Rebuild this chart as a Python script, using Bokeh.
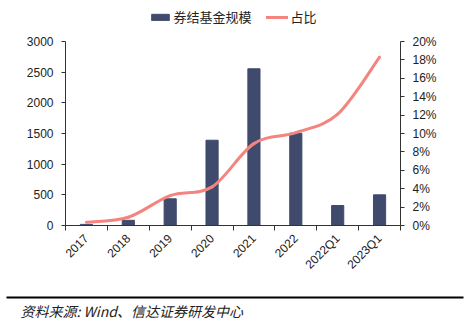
import math
from bokeh.plotting import figure
from bokeh.layouts import column
from bokeh.models import (Range1d, LinearAxis, FixedTicker, PrintfTickFormatter,
                          Legend, LegendItem, ColumnDataSource)
from bokeh.core.properties import value
from bokeh.embed import file_html
from bokeh.resources import INLINE

# ---- data ----
categories = ["2017", "2018", "2019", "2020", "2021", "2022", "2022Q1", "2023Q1"]
fund_scale = [18, 85, 435, 1390, 2555, 1505, 326, 500]          # 券结基金规模
share_pct = [0.35, 0.9, 3.25, 4.2, 8.9, 10.1, 12.1, 18.3]       # 占比 (%)
left_ticks = [0, 500, 1000, 1500, 2000, 2500, 3000]
right_ticks = [0, 2, 4, 6, 8, 10, 12, 14, 16, 18, 20]
legend_bar = "券结基金规模"
legend_line = "占比"
source_text = "资料来源: Wind、信达证券研发中心"

BAR_COLOR = "#3F4A6D"
LINE_COLOR = "#F4847F"
TXT = "#222222"
NUM_FONT = "Liberation Sans"
CJK_FONT = "Noto Sans CJK SC"

n = len(categories)
xc = [i + 0.5 for i in range(n)]

# frame spans y=7..225 px; the axes themselves span 184 px (0..max tick)
FRAME_H, AXIS_H = 218, 184
left_max, right_max = left_ticks[-1], right_ticks[-1]

p = figure(width=473, height=290, output_backend="svg", toolbar_location=None,
           x_range=Range1d(0, n), y_range=Range1d(0, left_max * FRAME_H / AXIS_H),
           min_border_left=65, min_border_right=73, min_border_top=7,
           min_border_bottom=65, outline_line_color=None, frame_align=False,
           background_fill_color="white", border_fill_color="white")
p.xgrid.visible = False
p.ygrid.visible = False
p.extra_y_ranges = {"pct": Range1d(0, right_max * FRAME_H / AXIS_H)}

bars = p.vbar(x=xc, top=fund_scale, width=0.29, color=BAR_COLOR)

# smooth (Catmull-Rom) curve through the share points
x0, y0, x1, y1, cx0, cy0, cx1, cy1 = [], [], [], [], [], [], [], []
for i in range(n - 1):
    pa = (xc[max(i - 1, 0)], share_pct[max(i - 1, 0)])
    pb = (xc[i], share_pct[i])
    pc = (xc[i + 1], share_pct[i + 1])
    pd = (xc[min(i + 2, n - 1)], share_pct[min(i + 2, n - 1)])
    x0.append(pb[0]); y0.append(pb[1]); x1.append(pc[0]); y1.append(pc[1])
    cx0.append(pb[0] + (pc[0] - pa[0]) / 6); cy0.append(pb[1] + (pc[1] - pa[1]) / 6)
    cx1.append(pc[0] - (pd[0] - pb[0]) / 6); cy1.append(pc[1] - (pd[1] - pb[1]) / 6)
src = ColumnDataSource(dict(x0=x0, y0=y0, x1=x1, y1=y1, cx0=cx0, cy0=cy0, cx1=cx1, cy1=cy1))
curve = p.bezier(x0="x0", y0="y0", x1="x1", y1="y1", cx0="cx0", cy0="cy0", cx1="cx1", cy1="cy1",
                 source=src, line_color=LINE_COLOR, line_width=3, line_cap="round",
                 y_range_name="pct")

def style_axis(ax):
    ax.axis_line_color = "#333333"
    ax.axis_line_width = 1
    ax.major_tick_line_color = "#333333"
    ax.major_tick_out = 4
    ax.major_tick_in = 0
    ax.minor_tick_line_color = None
    ax.major_label_text_font = NUM_FONT
    ax.major_label_text_font_size = "12px"
    ax.major_label_text_color = TXT

# left axis
ly = p.yaxis[0]
ly.ticker = FixedTicker(ticks=left_ticks)
ly.bounds = (0, left_max)
style_axis(ly)
ly.major_label_standoff = 8

# right axis
ry = LinearAxis(y_range_name="pct", ticker=FixedTicker(ticks=right_ticks),
                formatter=PrintfTickFormatter(format="%d%%"), bounds=(0, right_max))
style_axis(ry)
ry.major_label_standoff = 8
p.add_layout(ry, "right")

# bottom axis: labels at centres, ticks at boundaries
bx = p.xaxis[0]
bx.ticker = FixedTicker(ticks=xc, minor_ticks=list(range(n + 1)))
bx.major_label_overrides = {x: c for x, c in zip(xc, categories)}
style_axis(bx)
bx.major_tick_line_color = None
bx.minor_tick_line_color = "#333333"
bx.minor_tick_out = 5
bx.minor_tick_in = 0
bx.major_label_orientation = math.pi / 4
bx.major_label_standoff = 6

legend = Legend(items=[LegendItem(label=legend_bar, renderers=[bars]),
                       LegendItem(label=legend_line, renderers=[curve])],
                location="top_center", orientation="horizontal",
                border_line_color=None, background_fill_alpha=0,
                label_text_font=CJK_FONT, label_text_font_size="13px",
                label_text_color=TXT, glyph_width=22, glyph_height=8,
                label_standoff=3, spacing=14, padding=0, margin=0)
p.add_layout(legend, "center")

# footer: rule + source note
f = figure(width=473, height=31, output_backend="svg", toolbar_location=None,
           x_range=Range1d(0, 473), y_range=Range1d(0, 31), min_border=0,
           x_axis_type=None, y_axis_type=None, frame_align=False,
           outline_line_color=None, border_fill_color="white")
f.grid.visible = False
f.segment(x0=[6], y0=[24], x1=[463], y1=[24], line_color="black", line_width=2)
f.text(x=[20], y=[11], text=[source_text], text_font=value(CJK_FONT),
       text_font_size="14px", text_font_style="italic", text_color=TXT,
       text_baseline="middle")

layout = column(p, f, spacing=0)
open("out.html", "w").write(file_html(layout, INLINE))
